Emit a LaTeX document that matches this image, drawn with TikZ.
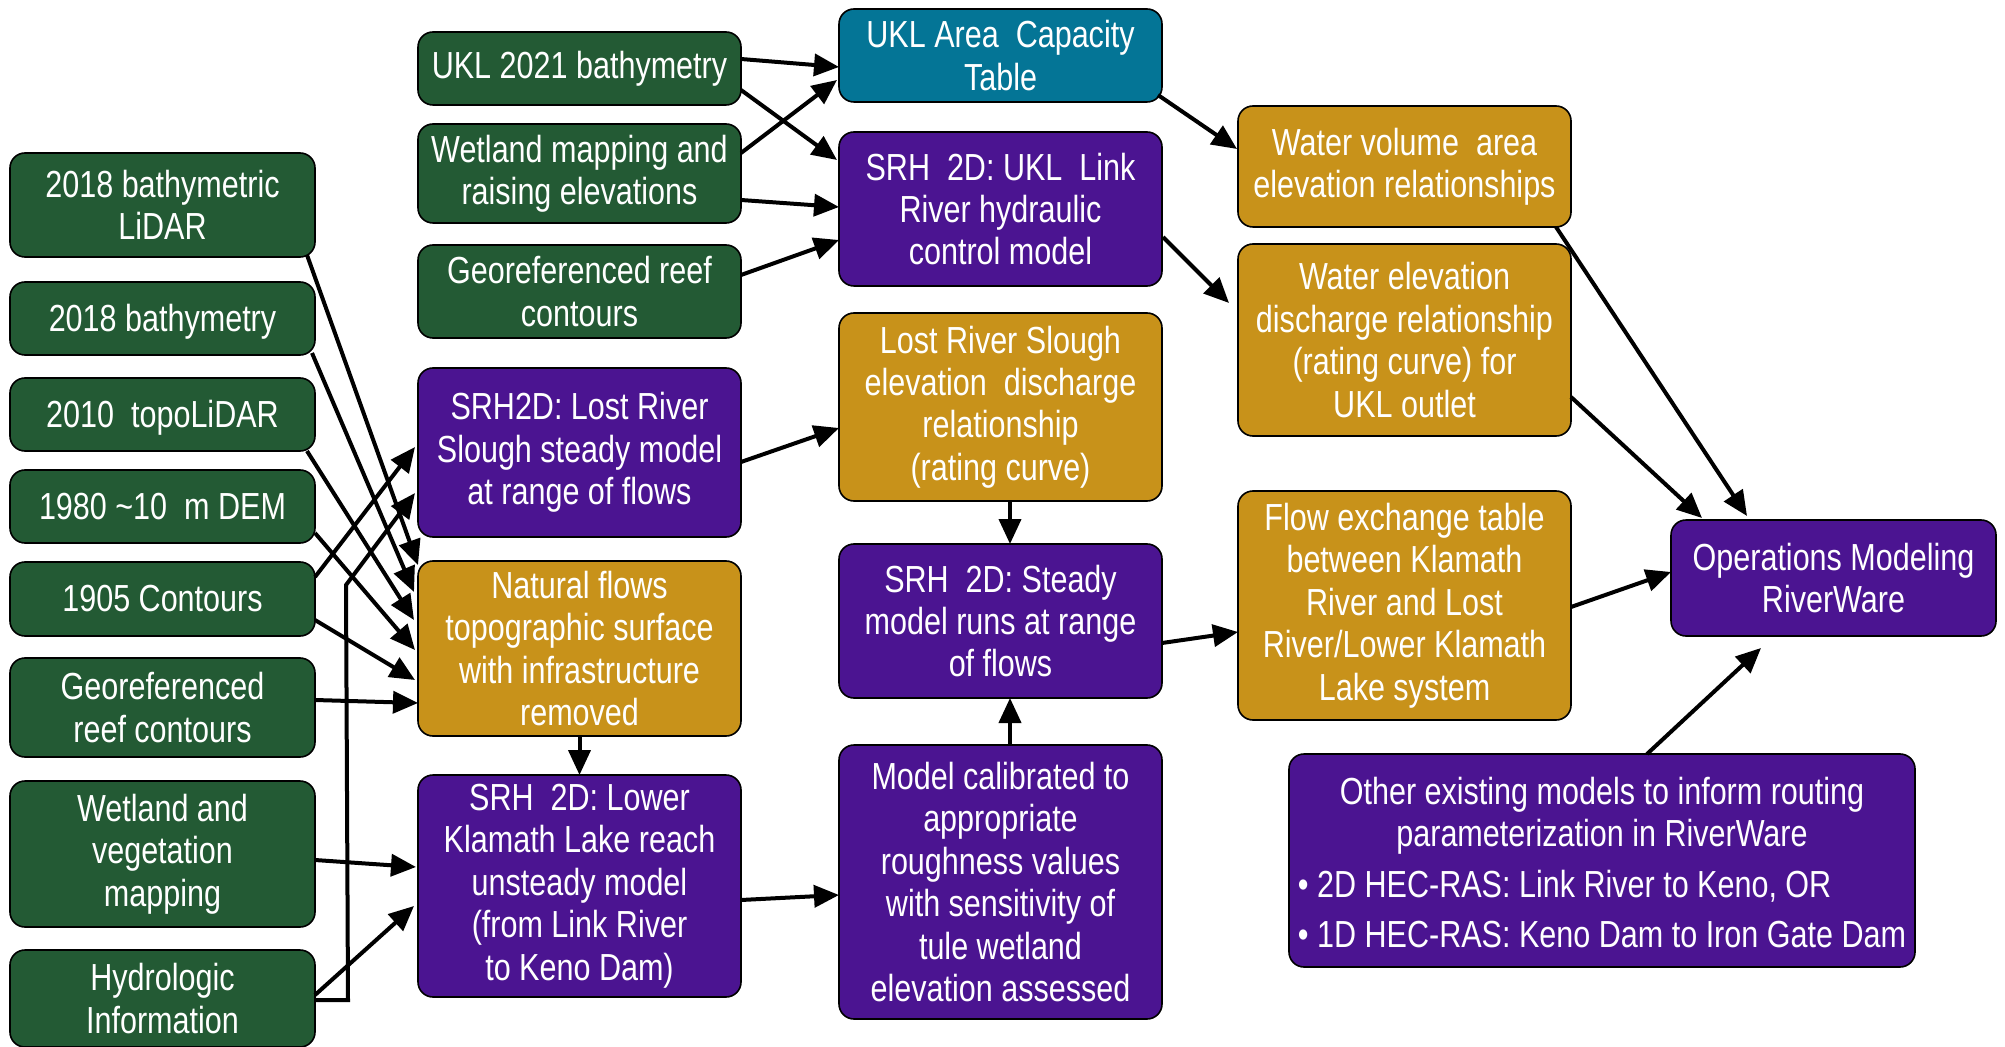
\documentclass[tikz,border=0pt]{standalone}
\usepackage{fontspec}
\setmainfont{Liberation Sans}[FakeStretch=0.81]
\usetikzlibrary{arrows.meta,calc}
\definecolor{cgreen}{RGB}{35,90,52}
\definecolor{cteal}{RGB}{4,117,150}
\definecolor{cpurple}{RGB}{75,20,145}
\definecolor{cgold}{RGB}{200,146,26}
\newcommand\mybox[7]{\node[#2, minimum width={(#5-#3)*0.5pt}, minimum height={(#6-#4)*0.5pt}] (#1) at ({(#3+#5)/2},{(#4+#6)/2}) {#7};}
\tikzset{
  box/.style={draw=black, line width=0.8pt, rounded corners=7.5pt, text=white, align=center,
    inner sep=2pt, outer sep=0pt, font=\fontsize{18.85}{21.2}\selectfont},
  gbox/.style={box, fill=cgreen},
  tbox/.style={box, fill=cteal},
  pbox/.style={box, fill=cpurple},
  obox/.style={box, fill=cgold},
  arr/.style={line width=2pt, -{Triangle[length=12.5pt,width=11pt]}},
}
\begin{document}
\begin{tikzpicture}[x=0.5pt,y=-0.5pt]
\useasboundingbox (0,0) rectangle (2005,1047);
% column 1
\mybox{g1}{gbox}{10}{153}{315}{257}{2018 bathymetric\\LiDAR}
\mybox{g2}{gbox}{10}{282}{315}{355}{\raisebox{-1.5pt}[\height][\depth]{2018 bathymetry}}
\mybox{g3}{gbox}{10}{378}{315}{451}{\raisebox{-1.5pt}[\height][\depth]{2010\ \ topoLiDAR}}
\mybox{g4}{gbox}{10}{470}{315}{543}{1980 \textasciitilde10\ \ m DEM}
\mybox{g5}{gbox}{10}{562}{315}{636}{1905 Contours}
\mybox{g6}{gbox}{10}{658}{315}{757}{Georeferenced\\reef contours}
\mybox{g7}{gbox}{10}{781}{315}{927}{Wetland and\\vegetation\\mapping}
\mybox{g8}{gbox}{10}{950}{315}{1047}{Hydrologic\\Information}
% column 2
\mybox{u1}{gbox}{418}{32}{741}{105}{UKL 2021 bathymetry}
\mybox{u2}{gbox}{418}{124}{741}{223}{Wetland mapping and\\raising elevations}
\mybox{u3}{gbox}{418}{245}{741}{338}{Georeferenced reef\\contours}
\mybox{p1}{pbox}{418}{368}{741}{537}{SRH2D: Lost River\\Slough steady model\\at range of flows}
\mybox{n1}{obox}{418}{561}{741}{736}{Natural flows\\topographic surface\\with infrastructure\\removed}
\mybox{p2}{pbox}{418}{775}{741}{997}{SRH\ \ 2D: Lower\\Klamath Lake reach\\unsteady model\\(from Link River\\to Keno Dam)}
% column 3
\mybox{t1}{tbox}{839}{9}{1162}{102}{UKL Area\ \ Capacity\\Table}
\mybox{p3}{pbox}{839}{132}{1162}{286}{SRH\ \ 2D: UKL\ \ Link\\River hydraulic\\control model}
\mybox{o1}{obox}{839}{313}{1162}{501}{Lost River Slough\\elevation\ \ discharge\\relationship\\(rating curve)}
\mybox{p4}{pbox}{839}{544}{1162}{698}{SRH\ \ 2D: Steady\\model runs at range\\of flows}
\mybox{p5}{pbox}{839}{745}{1162}{1019}{Model calibrated to\\appropriate\\roughness values\\with sensitivity of\\tule wetland\\elevation assessed}
% column 4
\mybox{o2}{obox}{1238}{106}{1571}{227}{Water volume\ \ area\\elevation relationships}
\mybox{o3}{obox}{1238}{244}{1571}{436}{Water elevation\\discharge relationship\\(rating curve) for\\UKL outlet}
\mybox{o4}{obox}{1238}{491}{1571}{720}{Flow exchange table\\between Klamath\\River and Lost\\River/Lower Klamath\\Lake system}
\mybox{p6}{pbox}{1289}{754}{1915}{967}{\raisebox{-3.5pt}[\height][\depth]{\begin{tabular}{@{}l@{}}\multicolumn{1}{@{}c@{}}{Other existing models to inform routing}\\ \multicolumn{1}{@{}c@{}}{parameterization in RiverWare}\\[4pt] • 2D HEC-RAS: Link River to Keno, OR\\[4pt] • 1D HEC-RAS: Keno Dam to Iron Gate Dam\end{tabular}}}
\mybox{p7}{pbox}{1671}{520}{1996}{636}{Operations Modeling\\RiverWare}
% connectors column 1
\draw[arr] ($(g1.north west)+(297,102)$) -- ($(n1.north west)+(0,4)$);
\draw[arr] ($(g2.north west)+(302,71)$) -- ($(n1.north west)+(-4,31)$);
\draw[arr] ($(g3.north west)+(297,73)$) -- ($(n1.north west)+(-4,59)$);
\draw[arr] ($(g4.north west)+(305,63)$) -- ($(n1.north west)+(-3,89)$);
\draw[arr] ($(g5.north west)+(305,58)$) -- ($(n1.north west)+(-3,119)$);
\draw[arr] ($(g6.north west)+(305,42)$) -- ($(n1.north west)+(0,142)$);
\draw[arr] ($(g5.north west)+(305,15)$) -- ($(p1.north west)+(-3,79)$);
\draw[arr] ($(g8.north west)+(305,50)$) -- ($(g8.north west)+(338,50)$) -- ($(g8.north west)+(336,-365)$) -- ($(p1.north west)+(-3,125)$);
\draw[arr] ($(g7.north west)+(305,79)$) -- ($(p2.north west)+(-2,92)$);
\draw[arr] ($(g8.north west)+(305,45)$) -- ($(p2.north west)+(-4,131)$);
\draw[arr] (n1.south) -- (p2.north);
% column 2 -> 3
\draw[arr] ($(u1.north west)+(323,27)$) -- ($(t1.north west)+(0,58)$);
\draw[arr] ($(u1.north west)+(323,58)$) -- ($(p3.north west)+(-2,28)$);
\draw[arr] ($(u2.north west)+(323,29)$) -- ($(t1.north west)+(-2,71)$);
\draw[arr] ($(u2.north west)+(323,76)$) -- ($(p3.north west)+(0,75)$);
\draw[arr] ($(u3.north west)+(323,30)$) -- ($(p3.north west)+(0,108)$);
\draw[arr] ($(p1.north west)+(323,94)$) -- ($(o1.north west)+(0,115)$);
\draw[arr] ($(o1.north west)+(171,188)$) -- ($(p4.north west)+(171,0)$);
\draw[arr] ($(p5.north west)+(171,0)$) -- ($(p4.north west)+(171,154)$);
\draw[arr] ($(p2.north west)+(323,125)$) -- ($(p5.north west)+(0,150)$);
% column 3 -> 4
\draw[arr] ($(t1.north west)+(319,86)$) -- ($(o2.north west)+(-1,43)$);
\draw[arr] ($(p3.north west)+(324,105)$) -- ($(o3.north west)+(-9,59)$);
\draw[arr] ($(p4.north west)+(323,99)$) -- ($(o4.north west)+(0,141)$);
% column 4 -> operations
\draw[arr] ($(o2.north west)+(318,121)$) -- ($(p7.north west)+(76,-4)$);
\draw[arr] ($(o3.north west)+(333,153)$) -- ($(p7.north west)+(31,-2)$);
\draw[arr] ($(o4.north west)+(333,116)$) -- ($(p7.north west)+(0,52)$);
\draw[arr] ($(p6.north west)+(358,0)$) -- ($(p7.north west)+(90,128)$);
\end{tikzpicture}
\end{document}
